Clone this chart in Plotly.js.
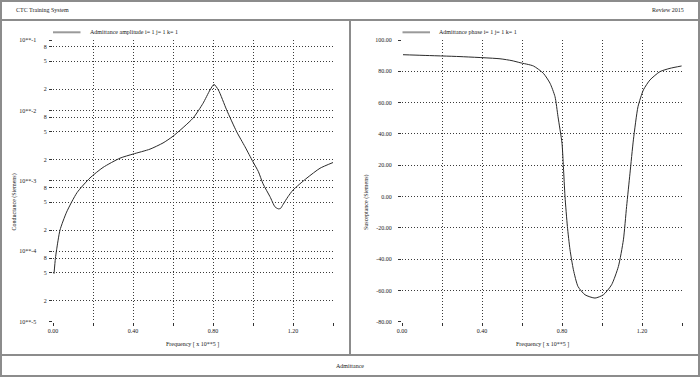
<!DOCTYPE html>
<html>
<head>
<meta charset="utf-8">
<script src="https://cdn.plot.ly/plotly-3.0.1.min.js"></script>
<style>
html,body{margin:0;padding:0;background:#fff;}
#chart{width:700px;height:377px;}
</style>
</head>
<body>
<div id="chart"></div>
<script>
// ---------- data ----------
const headerLeft = "CTC Training System";
const headerRight = "Review 2015";
const footerTitle = "Admittance";

const ampName = "Admittance amplitude i= 1 j= 1 k= 1";
const phaseName = "Admittance phase i= 1 j= 1 k= 1";
const xTitle = "Frequency [ x 10**5 ]";
const ampYTitle = "Conductance (Siemens)";
const phaseYTitle = "Susceptance (Siemens)";

const ampFreq = [0.005, 0.012, 0.018, 0.035, 0.068, 0.12, 0.185, 0.25, 0.335, 0.40, 0.485, 0.55,
  0.60, 0.70, 0.75, 0.785, 0.805, 0.827, 0.868, 0.918, 0.96, 1.00, 1.027, 1.05, 1.085,
  1.11, 1.127, 1.138, 1.15, 1.175, 1.20, 1.27, 1.335, 1.40];
const ampValue = [4.8e-5, 7.9e-5, 1.05e-4, 2.0e-4, 3.6e-4, 6.8e-4, 1.10e-3, 1.55e-3, 2.1e-3, 2.4e-3, 2.82e-3, 3.45e-3,
  4.3e-3, 7.76e-3, 1.26e-2, 1.95e-2, 2.34e-2, 1.95e-2, 1.02e-2, 5.0e-3, 3.05e-3, 1.86e-3, 1.35e-3, 9.1e-4, 5.96e-4,
  4.27e-4, 4.0e-4, 4.07e-4, 4.6e-4, 5.96e-4, 7.4e-4, 1.10e-3, 1.51e-3, 1.82e-3];

const phaseFreq = [0.005, 0.1, 0.29, 0.49, 0.55, 0.59, 0.657, 0.707, 0.74, 0.765, 0.78, 0.80,
  0.807, 0.815, 0.827, 0.84, 0.857, 0.88, 0.915, 0.965, 1.007, 1.048, 1.082, 1.107, 1.123,
  1.14, 1.157, 1.18, 1.207, 1.24, 1.29, 1.34, 1.398];
const phaseValue = [90.6, 90.2, 89.4, 88.0, 86.8, 85.5, 83.4, 78.7, 72.4, 63.8, 51.0, 34.0,
  19.1, 0, -19.2, -34, -46.8, -57.5, -62.8, -64.9, -62.8, -56.4, -44.7, -27.7, -6.4,
  14.9, 36.2, 57.4, 68.1, 74.5, 79.8, 81.9, 83.4];

const xTickVals = [0, 0.2, 0.4, 0.6, 0.8, 1.0, 1.2, 1.4];
const xTickText = ["0.00", "", "0.40", "", "0.80", "", "1.20", ""];

const ampTickVals = [1e-5, 2e-5, 5e-5, 8e-5, 1e-4, 2e-4, 5e-4, 8e-4, 1e-3, 2e-3, 5e-3, 8e-3, 1e-2, 2e-2, 5e-2, 8e-2, 1e-1];
const ampTickText = ["10**-5", "2", "5", "8", "10**-4", "2", "5", "8", "10**-3", "2", "5", "8", "10**-2", "2", "5", "8", "10**-1"];

const phaseTickVals = [-80, -60, -40, -20, 0, 20, 40, 60, 80, 100];
const phaseTickText = ["-80.00", "-60.00", "-40.00", "-20.00", "0.00", "20.00", "40.00", "60.00", "80.00", "100.00"];

// ---------- layout helpers ----------
const W = 700, H = 377;
const px = x => x / W;
const py = y => 1 - y / H;
const FONT = "Liberation Serif, Times New Roman, serif";
const TXT = "#1a1a1a";
const NB = "\u00a0";

const ampTickTextPadded = ampTickText.map(t => t.startsWith("10**") ? t + NB.repeat(7) : t);

const gridStyle = {
  showgrid: true, griddash: "1px,2px", gridcolor: "#3a3a3a", gridwidth: 1,
  zeroline: false, showline: false,
  ticks: "outside", ticklen: 3, tickcolor: "#333",
  tickfont: {family: FONT, size: 6, color: TXT}
};

const traces = [
  {x: ampFreq, y: ampValue, xaxis: "x", yaxis: "y", mode: "lines", name: ampName,
   line: {color: "#2a2a2a", width: 1, shape: "spline", smoothing: 0.6}, showlegend: false},
  {x: phaseFreq, y: phaseValue, xaxis: "x2", yaxis: "y2", mode: "lines", name: phaseName,
   line: {color: "#2a2a2a", width: 1, shape: "spline", smoothing: 0.6}, showlegend: false}
];

const layout = {
  width: W, height: H,
  margin: {l: 0, r: 0, t: 0, b: 0},
  paper_bgcolor: "#fff", plot_bgcolor: "rgba(0,0,0,0)",
  showlegend: false,
  xaxis: Object.assign({}, gridStyle, {domain: [px(53), px(333)], range: [0, 1.4],
    tickmode: "array", tickvals: xTickVals, ticktext: xTickText, anchor: "y"}),
  yaxis: Object.assign({}, gridStyle, {domain: [py(321.7), py(40)], type: "log", range: [-5, -1],
    tickmode: "array", tickvals: ampTickVals, ticktext: ampTickTextPadded, anchor: "x", ticklabelstandoff: 1}),
  xaxis2: Object.assign({}, gridStyle, {domain: [px(402), px(682)], range: [0, 1.4],
    tickmode: "array", tickvals: xTickVals, ticktext: xTickText, anchor: "y2"}),
  yaxis2: Object.assign({}, gridStyle, {domain: [py(321.7), py(40)], range: [-80, 100],
    tickmode: "array", tickvals: phaseTickVals, ticktext: phaseTickText, anchor: "x2", ticklabelstandoff: 5}),
  shapes: [
    {type: "rect", xref: "paper", yref: "paper", x0: px(1), x1: px(699), y0: py(376), y1: py(1),
     line: {color: "#8c8c8c", width: 2}},
    {type: "line", xref: "paper", yref: "paper", x0: 0, x1: 1, y0: py(20), y1: py(20),
     line: {color: "#8c8c8c", width: 2}},
    {type: "line", xref: "paper", yref: "paper", x0: 0, x1: 1, y0: py(355), y1: py(355),
     line: {color: "#8c8c8c", width: 2}},
    {type: "line", xref: "paper", yref: "paper", x0: px(350), x1: px(350), y0: py(20), y1: py(355),
     line: {color: "#8c8c8c", width: 2}},
    // legend samples
    {type: "line", xref: "paper", yref: "paper", x0: px(53), x1: px(80.5), y0: py(32.3), y1: py(32.3),
     line: {color: "#9a9a9a", width: 2}},
    {type: "line", xref: "paper", yref: "paper", x0: px(402.5), x1: px(430), y0: py(32.3), y1: py(32.3),
     line: {color: "#9a9a9a", width: 2}}
  ],
  annotations: [
    {text: headerLeft, xref: "paper", yref: "paper", x: px(14), y: py(10), xanchor: "left", yanchor: "middle",
     showarrow: false, font: {family: FONT, size: 6, color: TXT}},
    {text: headerRight, xref: "paper", yref: "paper", x: px(686), y: py(10), xanchor: "right", yanchor: "middle",
     showarrow: false, font: {family: FONT, size: 6, color: TXT}},
    {text: footerTitle, xref: "paper", yref: "paper", x: px(350), y: py(365.5), xanchor: "center", yanchor: "middle",
     showarrow: false, font: {family: FONT, size: 6, color: TXT}},
    {text: ampName, xref: "paper", yref: "paper", x: px(87.5), y: py(31.5), xanchor: "left", yanchor: "middle",
     showarrow: false, font: {family: FONT, size: 6, color: TXT}},
    {text: phaseName, xref: "paper", yref: "paper", x: px(437), y: py(31.5), xanchor: "left", yanchor: "middle",
     showarrow: false, font: {family: FONT, size: 6, color: TXT}},
    {text: xTitle, xref: "paper", yref: "paper", x: px(193), y: py(344.5), xanchor: "center", yanchor: "middle",
     showarrow: false, font: {family: FONT, size: 6, color: TXT}},
    {text: xTitle, xref: "paper", yref: "paper", x: px(542), y: py(344.5), xanchor: "center", yanchor: "middle",
     showarrow: false, font: {family: FONT, size: 6, color: TXT}},
    {text: ampYTitle, xref: "paper", yref: "paper", x: px(13.5), y: py(202), xanchor: "center", yanchor: "middle",
     textangle: -90, showarrow: false, font: {family: FONT, size: 6, color: TXT}},
    {text: phaseYTitle, xref: "paper", yref: "paper", x: px(366), y: py(203), xanchor: "center", yanchor: "middle",
     textangle: -90, showarrow: false, font: {family: FONT, size: 6, color: TXT}}
  ]
};

Plotly.newPlot("chart", traces, layout, {staticPlot: true, displayModeBar: false});
</script>
</body>
</html>
